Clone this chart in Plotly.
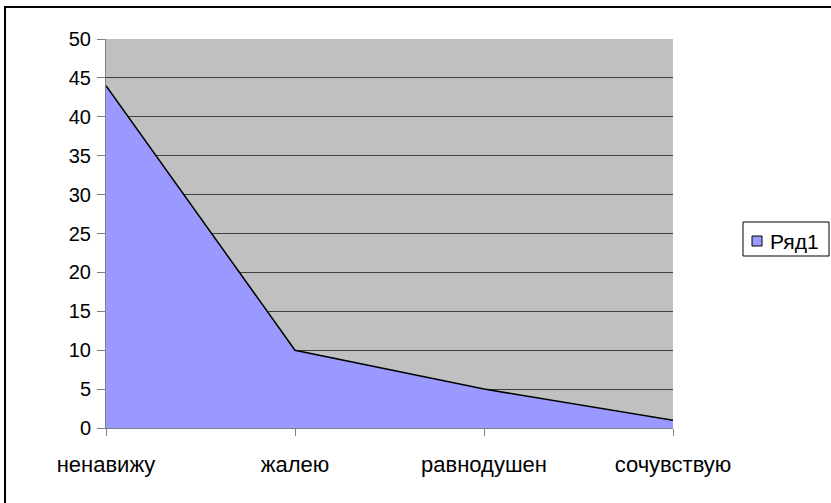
import plotly.graph_objects as go

categories = ["ненавижу", "жалею", "равнодушен", "сочувствую"]
values = [44, 10, 5, 1]
series_name = "Ряд1"
y_ticks = [0, 5, 10, 15, 20, 25, 30, 35, 40, 45, 50]

x_pos = list(range(len(categories)))

fig = go.Figure()
fig.add_trace(go.Scatter(
    x=x_pos, y=values, name=series_name, mode="lines",
    fill="tozeroy", fillcolor="#9999FF",
    line=dict(color="black", width=1.5),
    showlegend=False,
))

W, H = 831, 503
L, R, T, B = 106, 673, 39, 428

def px_x(p):
    return (p - L) / (R - L)

def px_y(p):
    return (B - p) / (B - T)

fig.update_layout(
    width=W, height=H,
    margin=dict(l=L, r=W - R, t=T, b=H - B, autoexpand=False),
    paper_bgcolor="white",
    plot_bgcolor="#C0C0C0",
    font=dict(family="Liberation Sans, Arial, sans-serif", size=20, color="black"),
    showlegend=False,
    xaxis=dict(
        range=[0, len(categories) - 1],
        tickvals=x_pos, ticktext=categories,
        tickfont=dict(size=22),
        showgrid=False, zeroline=False, automargin=False,
        showline=True, linecolor="#808080", linewidth=1,
        ticks="outside", ticklen=7, tickcolor="#808080",
        ticklabelstandoff=10,
    ),
    yaxis=dict(
        range=[0, 50], tickvals=y_ticks, automargin=False,
        showgrid=True, gridcolor="#404040", gridwidth=1,
        zeroline=False,
        showline=True, linecolor="#808080", linewidth=1,
        ticks="outside", ticklen=8, tickcolor="#808080",
        ticklabelstandoff=2,
    ),
)

# chart frame
fig.add_shape(type="rect", xref="paper", yref="paper",
              x0=px_x(5), x1=px_x(845),
              y0=px_y(515), y1=px_y(7),
              line=dict(color="black", width=2), layer="below")

# legend box
fig.add_shape(type="rect", xref="paper", yref="paper",
              x0=px_x(743), x1=px_x(829), y0=px_y(256), y1=px_y(222),
              line=dict(color="black", width=1), fillcolor="white")
fig.add_shape(type="rect", xref="paper", yref="paper",
              x0=px_x(752), x1=px_x(762), y0=px_y(246), y1=px_y(236),
              line=dict(color="black", width=1), fillcolor="#9999FF")
fig.add_annotation(xref="paper", yref="paper", x=px_x(768), y=px_y(241),
                   text=series_name, showarrow=False,
                   xanchor="left", yanchor="middle",
                   font=dict(family="Liberation Sans, sans-serif", size=21, color="black"))

fig.write_html(
    "out.html",
    config={"displayModeBar": False},
    post_script="document.body.style.margin='0';document.body.style.overflow='hidden';",
)
